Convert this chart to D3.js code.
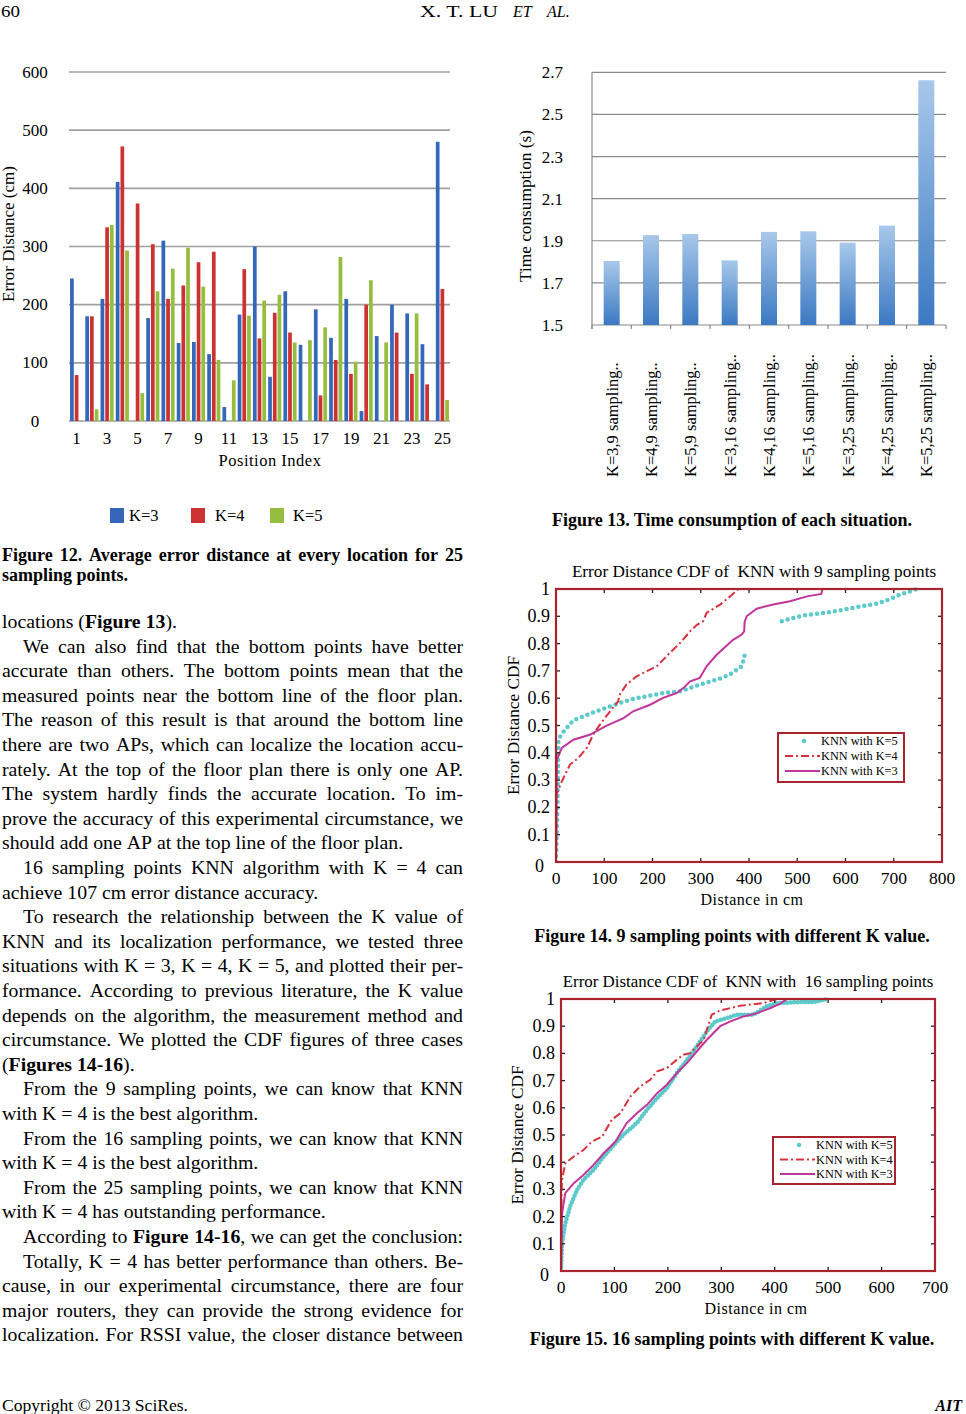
<!DOCTYPE html>
<html>
<head>
<meta charset="utf-8">
<script src="https://cdn.jsdelivr.net/npm/d3@7"></script>
<style>
body { margin: 0; background: #fff; }
svg { display: block; }
text { font-family: "Liberation Serif", "Times New Roman", serif; fill: #000; }
</style>
</head>
<body>
<svg id="page" width="966" height="1414"></svg>
<script>
// ---------- Figure 12 : error distance per position ----------
var positions = [1,2,3,4,5,6,7,8,9,10,11,12,13,14,15,16,17,18,19,20,21,22,23,24,25];
var posLabels = [1,3,5,7,9,11,13,15,17,19,21,23,25];
var kSeries = ["K=3", "K=4", "K=5"];
var errK3 = [245,180,210,411,0,177,310,134,136,115,24,183,300,76,223,131,192,143,210,17,146,200,185,132,480];
var errK4 = [79,180,333,472,374,304,210,233,273,291,0,261,142,186,152,0,44,105,81,200,0,152,81,63,227];
var errK5 = [0,20,337,293,48,223,262,298,231,105,70,181,207,217,135,139,161,282,102,242,135,0,185,0,36];
var errTicks = [0,100,200,300,400,500,600];

// ---------- Figure 13 : time consumption ----------
var situations = ["K=3,9 sampling..","K=4,9 sampling..","K=5,9 sampling..","K=3,16 sampling..",
  "K=4,16 sampling..","K=5,16 sampling..","K=3,25 sampling..","K=4,25 sampling..","K=5,25 sampling.."];
var timeUsed = [1.804,1.927,1.932,1.807,1.942,1.945,1.891,1.972,2.662];
var timeTicks = [1.5,1.7,1.9,2.1,2.3,2.5,2.7];

// ---------- Figures 14 and 15 : CDF curves [distance cm, cdf] ----------
var cdfTicks = [0,0.1,0.2,0.3,0.4,0.5,0.6,0.7,0.8,0.9,1];
var dist9Ticks = [0,100,200,300,400,500,600,700,800];
var dist16Ticks = [0,100,200,300,400,500,600,700];

var cdf9K5 = [[0,0],[3,0.2],[5,0.448],[12,0.47],[36,0.519],[70,0.543],[102,0.564],[126,0.579],[160,0.598],
  [188,0.607],[222,0.619],[257,0.625],[292,0.646],[333,0.668],[360,0.686],[385,0.717],[390,0.747],[391,0.76],
  null,[468,0.882],[492,0.894],[516,0.904],[571,0.916],[606,0.928],[640,0.939],[665,0.946],[689,0.961],[713,0.979],[748,1.0]];
var cdf9K4 = [[0,0],[1,0.247],[12,0.295],[29,0.357],[46,0.381],[64,0.418],[77,0.466],[91,0.503],[112,0.552],
  [129,0.589],[131,0.61],[146,0.65],[167,0.68],[195,0.705],[209,0.717],[236,0.766],[257,0.802],[278,0.845],
  [292,0.869],[305,0.882],[312,0.912],[340,0.943],[361,0.973],[378,1.0],[400,1.0]];
var cdf9K3 = [[0,0],[2,0.375],[12,0.418],[36,0.448],[70,0.466],[102,0.497],[140,0.527],[160,0.552],[195,0.576],
  [222,0.601],[250,0.619],[264,0.637],[278,0.662],[298,0.674],[312,0.717],[333,0.759],[367,0.814],[385,0.833],
  [390,0.845],[391,0.88],[395,0.9],[416,0.928],[450,0.943],[485,0.955],[520,0.973],[550,0.982],[552,1.0],[590,1.0]];

var cdf16K5 = [[0,0],[2,0.102],[8,0.175],[17,0.237],[30,0.298],[42,0.335],[61,0.372],[80,0.421],[102,0.47],
  [120,0.507],[142,0.544],[161,0.593],[180,0.636],[198,0.672],[217,0.728],[236,0.777],[254,0.826],[273,0.881],
  [289,0.918],[310,0.93],[329,0.942],[360,0.942],[385,0.973],[404,0.985],[454,0.989],[473,0.989],[500,1.0]];
var cdf16K4 = [[0,0],[1,0.3],[2,0.335],[8,0.396],[24,0.421],[42,0.445],[58,0.476],[77,0.494],[95,0.556],
  [111,0.58],[130,0.642],[148,0.678],[167,0.703],[180,0.734],[198,0.746],[217,0.777],[229,0.795],[242,0.801],
  [267,0.85],[282,0.942],[298,0.958],[335,0.975],[379,0.985],[404,1.0],[440,1.0]];
var cdf16K3 = [[0,0],[2,0.212],[8,0.286],[24,0.323],[42,0.353],[58,0.384],[80,0.433],[102,0.476],[123,0.544],
  [142,0.58],[161,0.611],[180,0.654],[198,0.685],[217,0.728],[236,0.765],[254,0.807],[273,0.85],[298,0.9],
  [317,0.918],[342,0.936],[367,0.948],[392,0.967],[410,0.982],[423,1.0],[450,1.0]];

// ---------- body text (">" = indented first line, "|" at end = justified) ----------
var bodyLines = [
  "locations (**Figure 13**).",
  ">We can also find that the bottom points have better|",
  "accurate than others. The bottom points mean that the|",
  "measured points near the bottom line of the floor plan.|",
  "The reason of this result is that around the bottom line|",
  "there are two APs, which can localize the location accu-|",
  "rately. At the top of the floor plan there is only one AP.|",
  "The system hardly finds the accurate location. To im-|",
  "prove the accuracy of this experimental circumstance, we|",
  "should add one AP at the top line of the floor plan.",
  ">16 sampling points KNN algorithm with K = 4 can|",
  "achieve 107 cm error distance accuracy.",
  ">To research the relationship between the K value of|",
  "KNN and its localization performance, we tested three|",
  "situations with K = 3, K = 4, K = 5, and plotted their per-|",
  "formance. According to previous literature, the K value|",
  "depends on the algorithm, the measurement method and|",
  "circumstance. We plotted the CDF figures of three cases|",
  "(**Figures 14-16**).",
  ">From the 9 sampling points, we can know that KNN|",
  "with K = 4 is the best algorithm.",
  ">From the 16 sampling points, we can know that KNN|",
  "with K = 4 is the best algorithm.",
  ">From the 25 sampling points, we can know that KNN|",
  "with K = 4 has outstanding performance.",
  ">According to **Figure 14-16**, we can get the conclusion:|",
  ">Totally, K = 4 has better performance than others. Be-|",
  "cause, in our experimental circumstance, there are four|",
  "major routers, they can provide the strong evidence for|",
  "localization. For RSSI value, the closer distance between|"
];
var caption12 = ["Figure 12. Average error distance at every location for 25|", "sampling points."];

var svg = d3.select("#page");

// word-by-word placement so lines can be justified like the page
function setLines(g, lines, o) {
  lines.forEach(function(raw, i) {
    var indent = raw.charAt(0) === ">";
    var justify = raw.charAt(raw.length - 1) === "|";
    var s = raw.replace(/^>/, "").replace(/\|$/, "");
    var y = o.y + i * o.lh;
    var bold = false;
    var words = s.split(" ").map(function(w) {
      var t = g.append("text").attr("y", y).attr("font-size", o.size)
        .attr("font-weight", o.weight || "normal");
      w.split("**").forEach(function(seg, k) {
        if (k > 0) bold = !bold;
        if (seg) t.append("tspan").attr("font-weight", bold ? "bold" : null).text(seg);
      });
      return { t: t, w: t.node().getComputedTextLength() };
    });
    var x = o.x0 + (indent ? o.indent : 0);
    var total = d3.sum(words, function(d) { return d.w; });
    var gap = o.size * 0.25;
    if (justify && words.length > 1) gap = (o.x1 - x - total) / (words.length - 1);
    words.forEach(function(d) {
      d.t.attr("x", x);
      x += d.w + gap;
    });
  });
}

// ---------- header / footer ----------
svg.append("text").attr("x", 1).attr("y", 17).attr("font-size", 16)
  .attr("textLength", 19).attr("lengthAdjust", "spacingAndGlyphs").text("60");
svg.append("text").attr("x", 420).attr("y", 17).attr("font-size", 16)
  .attr("textLength", 78).attr("lengthAdjust", "spacingAndGlyphs").text("X. T. LU");
svg.append("text").attr("x", 513).attr("y", 17).attr("font-size", 16).attr("font-style", "italic").text("ET");
svg.append("text").attr("x", 547).attr("y", 17).attr("font-size", 16).attr("font-style", "italic").text("AL.");
svg.append("text").attr("x", 2).attr("y", 1411).attr("font-size", 16)
  .attr("textLength", 186).attr("lengthAdjust", "spacingAndGlyphs").text("Copyright \u00a9 2013 SciRes.");
svg.append("text").attr("x", 962).attr("y", 1411).attr("font-size", 16).attr("text-anchor", "end")
  .attr("font-weight", "bold").attr("font-style", "italic").text("AIT");

// ---------- Figure 12 ----------
var f12 = svg.append("g");
var x12 = d3.scaleBand().domain(positions).range([69, 450]);
var xk12 = d3.scaleBand().domain(kSeries).range([0, x12.bandwidth()]).paddingInner(0.21).paddingOuter(0.225);
var y12 = d3.scaleLinear().domain([0, 600]).range([421, 72]);
var col12 = d3.scaleOrdinal().domain(kSeries).range(["#3467b9", "#cd3232", "#95bd3e"]);

f12.selectAll("line.grid").data(errTicks).enter().append("line")
  .attr("x1", 69).attr("x2", 450)
  .attr("y1", function(d) { return y12(d); }).attr("y2", function(d) { return y12(d); })
  .attr("stroke", "#a0a0a0").attr("stroke-width", 1.6);

[errK3, errK4, errK5].forEach(function(vals, si) {
  var k = kSeries[si];
  f12.selectAll("rect.s" + si).data(vals).enter().append("rect")
    .attr("x", function(d, i) { return x12(positions[i]) + xk12(k); })
    .attr("y", function(d) { return y12(d); })
    .attr("width", xk12.bandwidth())
    .attr("height", function(d) { return y12(0) - y12(d); })
    .attr("fill", col12(k));
});

f12.selectAll("text.yl").data(errTicks).enter().append("text")
  .attr("x", 35).attr("y", function(d) { return y12(d) + 5.5; })
  .attr("text-anchor", "middle").attr("font-size", 17).text(function(d) { return d; });
f12.selectAll("text.xl").data(posLabels).enter().append("text")
  .attr("x", function(d) { return x12(d) + x12.bandwidth() / 2; }).attr("y", 444)
  .attr("text-anchor", "middle").attr("font-size", 17).text(function(d) { return d; });
f12.append("text").attr("transform", "translate(14,234) rotate(-90)")
  .attr("text-anchor", "middle").attr("font-size", 17).text("Error Distance (cm)");
f12.append("text").attr("x", 270).attr("y", 466).attr("text-anchor", "middle")
  .attr("font-size", 16.5).attr("letter-spacing", 0.5).text("Position Index");

var leg12 = f12.selectAll("g.leg").data(kSeries).enter().append("g")
  .attr("transform", function(d, i) { return "translate(" + [110, 191, 270][i] + ",508)"; });
leg12.append("rect").attr("width", 14).attr("height", 15).attr("fill", function(d) { return col12(d); });
leg12.append("text").attr("x", function(d, i) { return [19, 24, 23][i]; }).attr("y", 13)
  .attr("font-size", 16.5).text(function(d) { return d; });

setLines(svg.append("g"), caption12, { x0: 2, x1: 463, y: 561, lh: 20, size: 18, indent: 0, weight: "bold" });

// ---------- Figure 13 ----------
var f13 = svg.append("g");
var x13 = d3.scaleBand().domain(situations).range([592, 946]).paddingInner(0.593).paddingOuter(0.2965);
var y13 = d3.scaleLinear().domain([1.5, 2.7]).range([325, 72.3]);

var grad = svg.append("defs").append("linearGradient").attr("id", "barGrad")
  .attr("x1", 0).attr("y1", 0).attr("x2", 0).attr("y2", 1);
grad.append("stop").attr("offset", "0%").attr("stop-color", "#a8c8ea");
grad.append("stop").attr("offset", "100%").attr("stop-color", "#3b79c3");

f13.selectAll("line.grid").data(timeTicks).enter().append("line")
  .attr("x1", 592).attr("x2", 946)
  .attr("y1", function(d) { return y13(d); }).attr("y2", function(d) { return y13(d); })
  .attr("stroke", "#8a8a8a").attr("stroke-width", 1.2);
f13.append("line").attr("x1", 592).attr("x2", 592).attr("y1", y13(2.7)).attr("y2", y13(1.5) + 4)
  .attr("stroke", "#8a8a8a").attr("stroke-width", 1.2);
f13.selectAll("line.tk").data(d3.range(situations.length + 1)).enter().append("line")
  .attr("x1", function(i) { return 592 + i * x13.step(); }).attr("x2", function(i) { return 592 + i * x13.step(); })
  .attr("y1", y13(1.5)).attr("y2", y13(1.5) + 4).attr("stroke", "#8a8a8a").attr("stroke-width", 1.2);

f13.selectAll("rect.bar").data(timeUsed).enter().append("rect")
  .attr("x", function(d, i) { return x13(situations[i]); })
  .attr("y", function(d) { return y13(d); })
  .attr("width", x13.bandwidth())
  .attr("height", function(d) { return y13(1.5) - y13(d); })
  .attr("fill", "url(#barGrad)");

f13.selectAll("text.yl").data(timeTicks).enter().append("text")
  .attr("x", 563).attr("y", function(d) { return y13(d) + 6; })
  .attr("text-anchor", "end").attr("font-size", 17).text(function(d) { return d3.format(".1f")(d); });
f13.selectAll("text.xl").data(situations).enter().append("text")
  .attr("transform", function(d) { return "translate(" + (x13(d) + x13.bandwidth() / 2 + 6) + ",477) rotate(-90)"; })
  .attr("text-anchor", "start").attr("font-size", 16.5).text(function(d) { return d; });
f13.append("text").attr("transform", "translate(531,206) rotate(-90)")
  .attr("text-anchor", "middle").attr("font-size", 17.3).text("Time consumption (s)");

svg.append("text").attr("x", 732).attr("y", 526).attr("text-anchor", "middle")
  .attr("font-size", 18).attr("font-weight", "bold").text("Figure 13. Time consumption of each situation.");

// ---------- Figures 14 and 15 ----------
var boxRed = "#a8242e";
var kColors = { k5: "#5ccaca", k4: "#d9323c", k3: "#c2359a" };

function drawCdf(c) {
  var g = svg.append("g");
  var x = d3.scaleLinear().domain([0, c.xMax]).range([c.left, c.right]);
  var y = d3.scaleLinear().domain([0, 1]).range([c.bottom, c.top]);
  var clipId = "clip" + c.id;
  g.append("clipPath").attr("id", clipId).append("rect")
    .attr("x", c.left).attr("y", c.top - 3).attr("width", c.right - c.left).attr("height", c.bottom - c.top + 3);

  var line = d3.line().defined(function(d) { return d != null; })
    .x(function(d) { return x(d[0]); }).y(function(d) { return y(d[1]); });
  var curves = g.append("g").attr("clip-path", "url(#" + clipId + ")");
  curves.append("path").attr("d", line(c.k5)).attr("fill", "none").attr("stroke", kColors.k5)
    .attr("stroke-width", 4.5).attr("stroke-linecap", "round").attr("stroke-dasharray", c.dotGap);
  curves.append("path").attr("d", line(c.k4)).attr("fill", "none").attr("stroke", kColors.k4)
    .attr("stroke-width", 2).attr("stroke-dasharray", "8,3,2,3");
  curves.append("path").attr("d", line(c.k3)).attr("fill", "none").attr("stroke", kColors.k3)
    .attr("stroke-width", 2);

  // inward ticks on all four sides
  c.xTicks.forEach(function(t) {
    g.append("line").attr("x1", x(t)).attr("x2", x(t)).attr("y1", c.bottom).attr("y2", c.bottom - 4)
      .attr("stroke", "#222").attr("stroke-width", 1.3);
    g.append("line").attr("x1", x(t)).attr("x2", x(t)).attr("y1", c.top).attr("y2", c.top + 4)
      .attr("stroke", "#222").attr("stroke-width", 1.3);
  });
  cdfTicks.forEach(function(t) {
    g.append("line").attr("x1", c.left).attr("x2", c.left + 4).attr("y1", y(t)).attr("y2", y(t))
      .attr("stroke", "#222").attr("stroke-width", 1.3);
    g.append("line").attr("x1", c.right).attr("x2", c.right - 4).attr("y1", y(t)).attr("y2", y(t))
      .attr("stroke", "#222").attr("stroke-width", 1.3);
  });
  g.append("rect").attr("x", c.left).attr("y", c.top).attr("width", c.right - c.left)
    .attr("height", c.bottom - c.top).attr("fill", "none").attr("stroke", boxRed).attr("stroke-width", 2.2);

  g.selectAll("text.yl").data(cdfTicks).enter().append("text")
    .attr("x", function(d) { return d === 0 ? c.left - 12 : c.left - 6; })
    .attr("y", function(d) { return y(d) + (d === 0 ? 10 : 6); })
    .attr("text-anchor", "end").attr("font-size", 18).text(function(d) { return d; });
  g.selectAll("text.xl").data(c.xTicks).enter().append("text")
    .attr("x", function(d) { return x(d); }).attr("y", c.bottom + 22)
    .attr("text-anchor", "middle").attr("font-size", 17.5).text(function(d) { return d; });
  g.append("text").attr("x", c.titleX).attr("y", c.top - 12).attr("text-anchor", "middle")
    .attr("font-size", c.titleSize).attr("xml:space", "preserve").text(c.title);
  g.append("text").attr("x", c.xLabelX).attr("y", c.bottom + 43).attr("text-anchor", "middle")
    .attr("font-size", 16).attr("letter-spacing", 0.5).text("Distance in cm");
  g.append("text").attr("transform", "translate(" + c.yLabelX + "," + (c.top + c.bottom) / 2 + ") rotate(-90)")
    .attr("text-anchor", "middle").attr("font-size", 17.3).text("Error Distance CDF");

  // legend
  var L = c.legend;
  g.append("rect").attr("x", L.x).attr("y", L.y).attr("width", L.w).attr("height", L.h)
    .attr("fill", "#fff").attr("stroke", boxRed).attr("stroke-width", 2);
  var rows = [["k5", "KNN with K=5"], ["k4", "KNN with K=4"], ["k3", "KNN with K=3"]];
  rows.forEach(function(r, i) {
    var ry = L.y + 8 + i * L.step;
    if (r[0] === "k5") {
      g.append("circle").attr("cx", L.x + 26).attr("cy", ry).attr("r", 2.3).attr("fill", kColors.k5);
    } else {
      g.append("line").attr("x1", L.x + 7).attr("x2", L.x + 42).attr("y1", ry).attr("y2", ry)
        .attr("stroke", kColors[r[0]]).attr("stroke-width", 2)
        .attr("stroke-dasharray", r[0] === "k4" ? "8,3,2,3" : null);
    }
    g.append("text").attr("x", L.x + 43).attr("y", ry + 4).attr("font-size", 12.3).text(r[1]);
  });
}

drawCdf({ id: 14, left: 556, right: 942, top: 589, bottom: 862, xMax: 800, xTicks: dist9Ticks,
  k5: cdf9K5, k4: cdf9K4, k3: cdf9K3, dotGap: "0,6", titleSize: 17.2,
  title: "Error Distance CDF of  KNN with 9 sampling points", titleX: 754, xLabelX: 752, yLabelX: 519,
  legend: { x: 778, y: 733, w: 126, h: 49, step: 15 } });
svg.append("text").attr("x", 732).attr("y", 942).attr("text-anchor", "middle")
  .attr("font-size", 18).attr("font-weight", "bold").text("Figure 14. 9 sampling points with different K value.");

drawCdf({ id: 15, left: 561, right: 935, top: 999, bottom: 1271, xMax: 700, xTicks: dist16Ticks,
  k5: cdf16K5, k4: cdf16K4, k3: cdf16K3, dotGap: "0,3.5", titleSize: 16.9,
  title: "Error Distance CDF of  KNN with  16 sampling points", titleX: 748, xLabelX: 756, yLabelX: 523,
  legend: { x: 773, y: 1137, w: 122, h: 47, step: 14.5 } });
svg.append("text").attr("x", 732).attr("y", 1345).attr("text-anchor", "middle")
  .attr("font-size", 18).attr("font-weight", "bold").text("Figure 15. 16 sampling points with different K value.");

// ---------- body text ----------
setLines(svg.append("g"), bodyLines, { x0: 2, x1: 463, y: 628, lh: 24.6, size: 19.8, indent: 21 });
</script>
</body>
</html>
